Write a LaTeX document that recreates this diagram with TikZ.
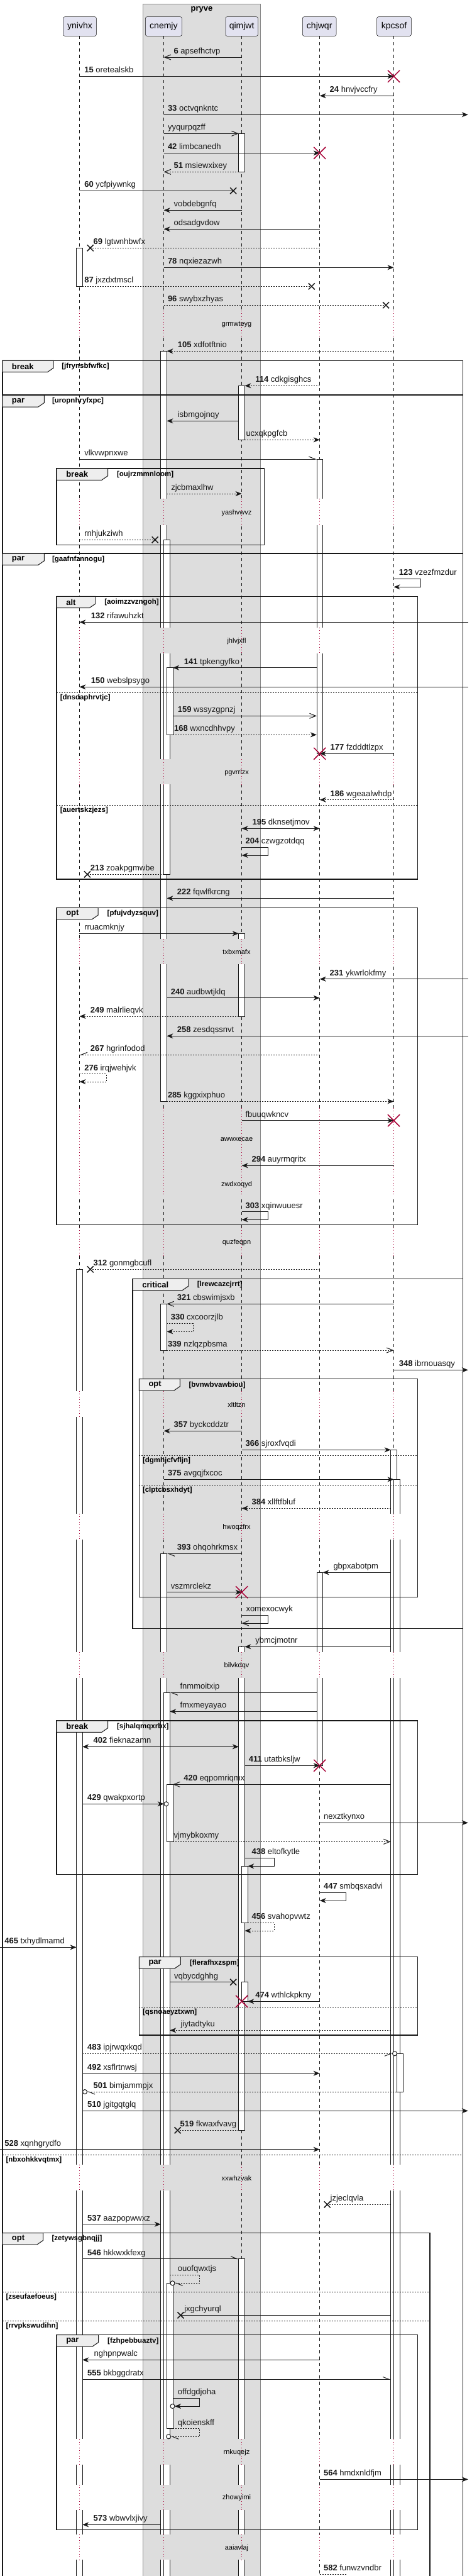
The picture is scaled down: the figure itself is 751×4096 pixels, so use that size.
\documentclass[tikz,border=0pt]{standalone}
\usepackage{fontspec}
\setmainfont{Liberation Sans}
\usetikzlibrary{arrows.meta}
\definecolor{ln}{HTML}{181818}
\definecolor{xred}{HTML}{A80036}
\definecolor{pboxc}{HTML}{E2E2F0}
\definecolor{grp}{HTML}{DDDDDD}
\definecolor{grpb}{HTML}{888888}
\definecolor{tabc}{HTML}{EEEEEE}
\tikzset{
  msg/.style={draw=ln,line width=1pt},
  dsh/.style={dash pattern=on 2pt off 2pt},
  fa/.style={-{Stealth[length=10pt,width=8pt,inset=3pt]}},
  fab/.style={{Stealth[length=10pt,width=8pt,inset=3pt]}-{Stealth[length=10pt,width=8pt,inset=3pt]}},
  oa/.style={-{Straight Barb[length=10pt,width=8pt]}},
  hl/.style={-{Straight Barb[left,length=10pt,width=8pt]}},
  hr/.style={-{Straight Barb[right,length=10pt,width=8pt]}},
  lab/.style={font=\fontsize{13}{15}\selectfont,inner sep=0pt,anchor=base west,text=ln},
  tabtxt/.style={font=\bfseries\fontsize{13}{15}\selectfont,inner sep=0pt,anchor=west},
  condtxt/.style={font=\bfseries\fontsize{11.5}{13}\selectfont,inner sep=0pt,anchor=west},
  dtxt/.style={font=\fontsize{11}{13}\selectfont,inner sep=0pt},
  partbox/.style={draw=ln,line width=0.5pt,fill=pboxc,rounded corners=2.5pt,minimum height=30.6pt,inner sep=0pt,font=\fontsize{14}{16}\selectfont},
  actbox/.style={draw=ln,line width=0.8pt,fill=white},
}
\newcommand\lbl[4]{\path (#1,#2) ++(0,-5.5) node[lab]{\if\relax\detokenize{#3}\relax\else\textbf{#3}\ \fi #4};}
\newcommand\lostx[2]{\draw[ln,line width=1.5pt] (#1,#2) +(-5,-5) -- +(5,5) +(-5,5) -- +(5,-5);}
\newcommand\destx[2]{\draw[xred,line width=1.5pt] (#1,#2) +(-9.5,-9.5) -- +(9.5,9.5) +(-9.5,9.5) -- +(9.5,-9.5);}
\newcommand\circend[2]{\draw[ln,line width=1pt,fill=white] (#1,#2) circle[radius=3.5pt];}
\newcommand\actv[4]{\draw[actbox] (#1,#2) rectangle (#3,#4);}
\newcommand\dly[2]{%
  \fill[white] (95,#1) rectangle (227,#2);
  \fill[grp] (228.3,#1) rectangle (413.5,#2);
  \fill[white] (415.3,#1) rectangle (662,#2);
  \foreach \xx in {126.4,260.6,384.6,508.7,626.5}
    \draw[xred,line width=0.8pt,dash pattern=on 0.8pt off 3.6pt] (\xx,#1) -- (\xx,#2);}
\newcommand\dtext[2]{\node[dtxt] at (376.5,#1) {#2};}
\newcommand\grpframe[8]{%
  \draw[ln,line width=1.5pt] (#1,#2) rectangle (#3,#4);
  \draw[ln,line width=1pt,fill=tabc] (#1,#2) -- ++(#5,0) -- ++(0,11.7) -- ++(-9.6,6.6) -- ++({9.6-#5},0) -- cycle;
  \path (#1,#2) ++(15,9.3) node[tabtxt] {#6};
  \path (#7,#2) ++(0,9.3) node[condtxt] {[#8]};}
\newcommand\grpsep[4]{%
  \draw[ln,line width=1pt,dash pattern=on 2pt off 2pt] (#1,#3) -- (#2,#3);
  \path (#1,#3) ++(5.5,8.5) node[condtxt] {[#4]};}
\begin{document}
\begin{tikzpicture}[x=1pt,y=-1pt]
\useasboundingbox (0,0) rectangle (751,4096);
\clip (0,0) rectangle (751,4096);
\fill[white] (0,0) rectangle (751,4096);
% group box
\draw[grpb,line width=1pt,fill=grp] (227.5,6) rectangle (414.3,4120);
\node[font=\bfseries\fontsize{13}{15}\selectfont] (pryve) at (320.9,15) {pryve};
% participants
\node[partbox,minimum width=52.7pt] (ynivhx) at (127,42) {ynivhx};
\node[partbox,minimum width=57.9pt] (cnemjy) at (260.4,42) {cnemjy};
\node[partbox,minimum width=51.7pt] (qimjwt) at (384.6,42) {qimjwt};
\node[partbox,minimum width=53.6pt] (chjwqr) at (508.2,42) {chjwqr};
\node[partbox,minimum width=54.6pt] (kpcsof) at (627,42) {kpcsof};
% lifelines
\foreach \xx in {126.4,260.6,384.6,508.7,626.5}
  \draw[ln,line width=0.5pt,dash pattern=on 5pt off 5pt] (\xx,57.3) -- (\xx,4110);
% activations
\actv{121.6}{394.3}{131.2}{455.3}
\actv{121.6}{2018.3}{131.2}{4110}
\actv{255.8}{558.3}{265.4}{1751.3}
\actv{260.6}{858.3}{270.2}{1390.3}
\actv{265.4}{1061.7}{275}{1168.3}
\actv{255.8}{2073.3}{265.4}{2147}
\actv{255.8}{2470.3}{265.4}{4110}
\actv{260.6}{2691.3}{270.2}{4110}
\actv{265.4}{2837.3}{275}{2928.3}
\actv{265.4}{3630.3}{275}{3861.7}
\actv{379.8}{212.3}{389.4}{273.3}
\actv{379.8}{613.3}{389.4}{699.3}
\actv{379.8}{1484.3}{389.4}{1616}
\actv{379.8}{2618.3}{389.4}{3387.3}
\actv{384.6}{2967.3}{394.2}{3057.3}
\actv{384.6}{3151.7}{394.2}{3182.3}
\actv{379.8}{3591.7}{389.4}{4110}
\actv{503.9}{730}{513.5}{1198.3}
\actv{503.9}{2500.3}{513.5}{2807.3}
\actv{621.7}{2305.3}{631.3}{4110}
\actv{626.5}{2352.3}{636.1}{4110}
\actv{631.3}{3265.3}{640.9}{3326}
% delays
\dly{494}{535}\dtext{515.7}{grmwteyg}
\dly{793}{835}\dtext{815.7}{yashvwvz}
\dly{997.7}{1039.3}\dtext{1019.3}{jhlvjxfl}
\dly{1207.3}{1247.3}\dtext{1228.3}{pgvrrlzx}
\dly{1492.7}{1532.7}\dtext{1513.3}{txbxmafx}
\dly{1762}{1902}\dtext{1811.7}{awwxecae}\dtext{1883.3}{zwdxoqyd}
\dly{1952}{1997}\dtext{1975.7}{quzfeqpn}
\dly{2212}{2253}\dtext{2233.3}{xltltzn}
\dly{2406.7}{2448.3}\dtext{2428.3}{hwoqzfrx}
\dly{2626.7}{2668.3}\dtext{2648.3}{bilvkdqv}
\dly{3441.7}{3483.3}\dtext{3463.3}{xxwhzvak}
\dly{3878.3}{3919.3}\dtext{3899.3}{rnkuqejz}
\dly{3950.7}{3991}\dtext{3971.7}{zhowyimi}
\dly{4030}{4070}\dtext{4051.7}{aaiavlaj}
% frames
\grpframe{3.8}{573.3}{736.7}{627.7}{81.4}{break}{98.2}{jfrynsbfwfkc}
\grpframe{3.8}{628.7}{736.7}{880}{66.6}{par}{82.9}{uropnhryfxpc}
\grpframe{90.1}{745}{420.6}{866.7}{81.4}{break}{185.9}{oujrzmmnloom}
\grpframe{3.8}{880}{736.7}{4120}{66.6}{par}{82.9}{gaafnfznnogu}
\grpsep{3.8}{736.7}{3426.3}{nbxohkkvqtmx}
\grpframe{90.1}{948.3}{664.4}{1398}{61.8}{alt}{166.2}{aoimzzvzngoh}
\grpsep{90.1}{664.4}{1101}{dnsdaphrvtjc}
\grpsep{90.1}{664.4}{1280.3}{auertskzjezs}
\grpframe{90.1}{1443.3}{664.4}{1947.3}{66.1}{opt}{170.5}{pfujvdyzsquv}
\grpframe{211.2}{2033.3}{736.7}{2589.3}{88.6}{critical}{313.7}{lrewcazcjrrt}
\grpframe{221.3}{2192.7}{664.4}{2539.3}{65.1}{opt}{300.3}{bvnwbvawbiou}
\grpsep{221.3}{664.4}{2314.3}{dgmhjcfvfljn}
\grpsep{221.3}{664.4}{2361.3}{clptcbsxhdyt}
\grpframe{90.1}{2736}{664.4}{2980.7}{81.4}{break}{185.9}{sjhalqmqxrbx}
\grpframe{221.3}{3111.7}{664.4}{3236}{66.1}{par}{301.8}{flerafhxzspm}
\grpsep{221.3}{664.4}{3191}{qsnoaeyztxwn}
\grpframe{3.8}{3550.7}{684}{4120}{64.7}{opt}{82.4}{zetywsgbnqjj}
\grpsep{3.8}{684}{3644}{zseufaefoeus}
\grpsep{3.8}{684}{3690.3}{rrvpkswudihn}
\grpframe{90.1}{3712.7}{664.4}{4022.3}{66.6}{par}{171}{fzhpebbuaztv}
% messages
\draw[msg,oa] (384.6,91) -- (260.6,91); \lbl{276.4}{91}{6}{apsefhctvp}
\draw[msg,fa] (126.4,121.3) -- (626.5,121.3); \destx{626.5}{121.3} \lbl{134.1}{121.3}{15}{oretealskb}
\draw[msg,fa] (626.5,152.3) -- (508.7,152.3); \lbl{524.5}{152.3}{24}{hnvjvccfry}
\draw[msg,fa] (260.6,182.3) -- (744.8,182.3); \lbl{266.8}{182.3}{33}{octvqnkntc}
\draw[msg,oa] (260.6,212.3) -- (379.8,212.3); \lbl{266.8}{212.3}{}{yyqurpqzff}
\draw[msg,fa] (260.6,243.3) -- (508.7,243.3); \destx{508.7}{243.3} \lbl{266.8}{243.3}{42}{limbcanedh}
\draw[msg,dsh,oa] (379.8,273.3) -- (260.6,273.3); \lbl{276.4}{273.3}{51}{msiewxixey}
\draw[msg] (126.4,303.3) -- (371.2,303.3); \lostx{371.2}{303.3} \lbl{134.1}{303.3}{60}{ycfpiywnkg}
\draw[msg,fa] (384.6,334.3) -- (260.6,334.3); \lbl{276.4}{334.3}{}{vobdebgnfq}
\draw[msg,fa] (508.7,364.3) -- (260.6,364.3); \lbl{276.4}{364.3}{}{odsadgvdow}
\draw[msg,dsh] (508.7,394.3) -- (143.7,394.3); \lostx{143.7}{394.3} \lbl{148.5}{394.3}{69}{lgtwnhbwfx}
\draw[msg,fa] (260.6,425.3) -- (626.5,425.3); \lbl{266.8}{425.3}{78}{nqxiezazwh}
\draw[msg,dsh] (131.2,455.3) -- (495.8,455.3); \lostx{495.8}{455.3} \lbl{134.1}{455.3}{87}{jxzdxtmscl}
\draw[msg,dsh] (260.6,485.3) -- (614.1,485.3); \lostx{614.1}{485.3} \lbl{266.8}{485.3}{96}{swybxzhyas}
\draw[msg,dsh,fa] (626.5,558.3) -- (265.4,558.3); \lbl{282.6}{558.3}{105}{xdfotftnio}
\draw[msg,dsh,fa] (508.7,613.3) -- (389.4,613.3); \lbl{406.2}{613.3}{114}{cdkgisghcs}
\draw[msg,fa] (379.8,669.3) -- (265.4,669.3); \lbl{282.6}{669.3}{}{isbmgojnqy}
\draw[msg,dsh,fa] (389.4,699.3) -- (508.7,699.3); \lbl{391.3}{699.3}{}{ucxqkpgfcb}
\draw[msg,hl] (126.4,730) -- (503.9,730); \lbl{134.1}{730}{}{vlkvwpnxwe}
\draw[msg,dsh,fa] (265.4,785) -- (384.6,785); \lbl{272.1}{785}{}{zjcbmaxlhw}
\draw[msg,dsh] (126.4,858.3) -- (246.7,858.3); \lostx{246.7}{858.3} \lbl{134.1}{858.3}{}{rnhjukziwh}
\draw[msg,fa] (626.5,920.3) -| (669.2,933.3) -- (626.5,933.3); \lbl{634.7}{920.3}{123}{vzezfmzdur}
\draw[msg,fa] (744.8,989.3) -- (126.4,989.3); \lbl{144.7}{989.3}{132}{rifawuhzkt}
\draw[msg,fa] (503.9,1061.7) -- (275,1061.7); \lbl{292.7}{1061.7}{141}{tpkengyfko}
\draw[msg,fa] (744.8,1092.3) -- (126.4,1092.3); \lbl{144.7}{1092.3}{150}{webslpsygo}
\draw[msg,oa] (275,1138.3) -- (503.9,1138.3); \lbl{282.6}{1138.3}{159}{wssyzgpnzj}
\draw[msg,dsh,fa] (275,1168.3) -- (503.9,1168.3); \lbl{276.9}{1168.3}{168}{wxncdhhvpy}
\draw[msg,fa] (626.5,1198.3) -- (508.7,1198.3); \destx{508.7}{1198.3} \lbl{525.5}{1198.3}{177}{fzdddtlzpx}
\draw[msg,dsh,fa] (626.5,1271.7) -- (508.7,1271.7); \lbl{525.5}{1271.7}{186}{wgeaalwhdp}
\draw[msg,fab] (384.6,1317.3) -- (508.7,1317.3); \lbl{401.4}{1317.3}{195}{dknsetjmov}
\draw[msg,fa] (384.6,1347.3) -| (426.3,1360) -- (384.6,1360); \lbl{390.4}{1347.3}{204}{czwgzotdqq}
\draw[msg,dsh] (260.6,1390.3) -- (138.9,1390.3); \lostx{138.9}{1390.3} \lbl{143.7}{1390.3}{213}{zoakpgmwbe}
\draw[msg,fa] (626.5,1428.3) -- (265.4,1428.3); \lbl{281.7}{1428.3}{222}{fqwlfkrcng}
\draw[msg,fa] (126.4,1484.3) -- (379.8,1484.3); \lbl{134.1}{1484.3}{}{rruacmknjy}
\draw[msg,fa] (744.8,1556.7) -- (508.7,1556.7); \lbl{524.5}{1556.7}{231}{ykwrlokfmy}
\draw[msg,fa] (265.4,1586.7) -- (508.7,1586.7); \lbl{271.6}{1586.7}{240}{audbwtjklq}
\draw[msg,dsh,fa] (379.8,1616) -- (126.4,1616); \lbl{143.7}{1616}{249}{malrlieqvk}
\draw[msg,fa] (744.8,1647.3) -- (265.4,1647.3); \lbl{281.7}{1647.3}{258}{zesdqssnvt}
\draw[msg,dsh,hr] (508.7,1677.3) -- (126.4,1677.3); \lbl{143.7}{1677.3}{267}{hgrinfodod}
\draw[msg,dsh,fa] (126.4,1707.7) -| (169.6,1720) -- (126.4,1720); \lbl{134.1}{1707.7}{276}{irqjwehjvk}
\draw[msg,dsh,fa] (265.4,1751.3) -- (626.5,1751.3); \lbl{266.8}{1751.3}{285}{kggxixphuo}
\draw[msg,fa] (384.6,1781.7) -- (626.5,1781.7); \destx{626.5}{1781.7} \lbl{390.4}{1781.7}{}{fbuuqwkncv}
\draw[msg,fa] (626.5,1853.3) -- (384.6,1853.3); \lbl{400.4}{1853.3}{294}{auyrmqritx}
\draw[msg,fa] (384.6,1926.7) -| (426.3,1939.3) -- (384.6,1939.3); \lbl{390.4}{1926.7}{303}{xqinwuuesr}
\draw[msg,dsh] (508.7,2018.3) -- (143.7,2018.3); \lostx{143.7}{2018.3} \lbl{148.5}{2018.3}{312}{gonmgbcufl}
\draw[msg,oa] (626.5,2073.3) -- (265.4,2073.3); \lbl{281.7}{2073.3}{321}{cbswimjsxb}
\draw[msg,dsh,fa] (265.4,2104.3) -| (307,2117.3) -- (265.4,2117.3); \lbl{271.6}{2104.3}{330}{cxcoorzjlb}
\draw[msg,dsh,oa] (265.4,2147) -- (626.5,2147); \lbl{266.8}{2147}{339}{nzlqzpbsma}
\draw[msg,fa] (626.5,2178.3) -- (744.8,2178.3); \lbl{634.7}{2178.3}{348}{ibrnouasqy}
\draw[msg,fa] (384.6,2275.3) -- (260.6,2275.3); \lbl{276.4}{2275.3}{357}{byckcddztr}
\draw[msg,fa] (384.6,2305.3) -- (621.7,2305.3); \lbl{390.4}{2305.3}{366}{sjroxfvqdi}
\draw[msg,fa] (260.6,2352.3) -- (626.5,2352.3); \lbl{266.8}{2352.3}{375}{avgqjfxcoc}
\draw[msg,dsh,fa] (621.7,2398.3) -- (384.6,2398.3); \lbl{400.4}{2398.3}{384}{xllftfbluf}
\draw[msg,hl] (384.6,2470.3) -- (265.4,2470.3); \lbl{281.7}{2470.3}{393}{ohqohrkmsx}
\draw[msg,fa] (621.7,2500.3) -- (513.5,2500.3); \lbl{530.3}{2500.3}{}{gbpxabotpm}
\draw[msg,fa] (265.4,2531.7) -- (384.6,2531.7); \destx{384.6}{2531.7} \lbl{271.6}{2531.7}{}{vszmrclekz}
\draw[msg,oa] (384.6,2568.3) -| (426.3,2581) -- (384.6,2581); \lbl{391.3}{2568.3}{}{xomexocwyk}
\draw[msg,fa] (621.7,2618.3) -- (389.4,2618.3); \lbl{406.2}{2618.3}{}{ybmcjmotnr}
\draw[msg,hl] (503.9,2691.3) -- (270.2,2691.3); \lbl{286.4}{2691.3}{}{fnmmoitxip}
\draw[msg,fa] (503.9,2721.3) -- (270.2,2721.3); \lbl{286.4}{2721.3}{}{fmxmeyayao}
\draw[msg,fab] (131.2,2777.3) -- (379.8,2777.3); \lbl{148.5}{2777.3}{402}{fieknazamn}
\draw[msg,fa] (389.4,2807.3) -- (508.7,2807.3); \destx{508.7}{2807.3} \lbl{395.7}{2807.3}{411}{utatbksljw}
\draw[msg,oa] (621.7,2837.3) -- (275,2837.3); \lbl{292.2}{2837.3}{420}{eqpomriqmx}
\draw[msg,fa] (131.2,2868.3) -- (260.8,2868.3); \circend{264.4}{2868.3} \lbl{138.9}{2868.3}{429}{qwakpxortp}
\draw[msg,fa] (508.7,2898.3) -- (744.8,2898.3); \lbl{514.9}{2898.3}{}{nexztkynxo}
\draw[msg,dsh,oa] (275,2928.3) -- (621.7,2928.3); \lbl{276.4}{2928.3}{}{vjmybkoxmy}
\draw[msg,fa] (389.4,2954.3) -| (436.4,2967.3) -- (394.2,2967.3); \lbl{400.4}{2954.3}{438}{eltofkytle}
\draw[msg,fa] (508.7,3009.3) -| (550.4,3022) -- (508.7,3022); \lbl{514.9}{3009.3}{447}{smbqsxadvi}
\draw[msg,dsh,fa] (394.2,3057.3) -| (436.4,3070) -- (389.4,3070); \lbl{400.4}{3057.3}{456}{svahopvwtz}
\draw[msg,fa] (0,3096.3) -- (121.6,3096.3); \lbl{7.2}{3096.3}{465}{txhydlmamd}
\draw[msg] (270.2,3151.7) -- (371.2,3151.7); \lostx{371.2}{3151.7} \lbl{276.9}{3151.7}{}{vqbycdghhg}
\draw[msg,fa] (508.7,3182.3) -- (394.2,3182.3); \destx{384.6}{3182.3} \lbl{406.2}{3182.3}{474}{wthlckpkny}
\draw[msg,dsh,fa] (621.7,3228.3) -- (270.2,3228.3); \lbl{287.4}{3228.3}{}{jiytadtyku}
\draw[msg,dsh,hr] (131.2,3265.3) -- (624.5,3265.3); \circend{628}{3265.3} \lbl{138.9}{3265.3}{483}{ipjrwqxkqd}
\draw[msg,fa] (131.2,3296.7) -- (508.7,3296.7); \lbl{138.9}{3296.7}{492}{xsflrtnwsj}
\draw[msg,dsh,hl] (631.3,3326) -- (138.5,3326); \circend{135}{3326} \lbl{148.5}{3326}{501}{bimjammpjx}
\draw[msg,fa] (131.2,3356.3) -- (744.8,3356.3); \lbl{138.9}{3356.3}{510}{jgitgqtglq}
\draw[msg,dsh] (379.8,3387.3) -- (282.6,3387.3); \lostx{282.6}{3387.3} \lbl{286.4}{3387.3}{519}{fkwaxfvavg}
\draw[msg,fa] (0,3417.7) -- (508.7,3417.7); \lbl{7.2}{3417.7}{528}{xqnhgrydfo}
\draw[msg,dsh] (621.7,3505.3) -- (520.7,3505.3); \lostx{520.7}{3505.3} \lbl{525.5}{3505.3}{}{jzjeclqvla}
\draw[msg,fa] (131.2,3536.7) -- (255.8,3536.7); \lbl{138.9}{3536.7}{537}{aazpopwwxz}
\draw[msg,hl] (131.2,3591.7) -- (379.8,3591.7); \lbl{138.9}{3591.7}{546}{hkkwxkfexg}
\draw[msg,dsh,hl] (270.2,3617.3) -| (317.6,3630.3) -- (278,3630.3); \circend{274.5}{3630.3} \lbl{282.6}{3617.3}{}{ouofqwxtjs}
\draw[msg] (621.7,3681.3) -- (287.4,3681.3); \lostx{287.4}{3681.3} \lbl{293.1}{3681.3}{}{jxgchyurql}
\draw[msg,fa] (508.7,3752.3) -- (131.2,3752.3); \lbl{149.4}{3752.3}{}{nghpnpwalc}
\draw[msg,hl] (131.2,3783.3) -- (621.7,3783.3); \lbl{138.9}{3783.3}{555}{bkbggdratx}
\draw[msg,fa] (275,3813.3) -| (317.6,3826) -- (278,3826); \circend{274.5}{3826} \lbl{282.6}{3813.3}{}{offdgdjoha}
\draw[msg,dsh,hl] (275,3861.7) -| (317.6,3874.3) -- (271.7,3874.3); \circend{268.2}{3874.3} \lbl{282.6}{3861.7}{}{qkoienskff}
\draw[msg,fa] (508.7,3942.3) -- (744.8,3942.3); \lbl{514.9}{3942.3}{564}{hmdxnldfjm}
\draw[msg,fa] (255.8,4014.3) -- (131.2,4014.3); \lbl{148.5}{4014.3}{573}{wbwvlxjivy}
\draw[msg,dsh] (508.7,4093.3) -| (550.4,4106) -- (508.7,4106); \lbl{514.9}{4093.3}{582}{funwzvndbr}
\end{tikzpicture}
\end{document}
